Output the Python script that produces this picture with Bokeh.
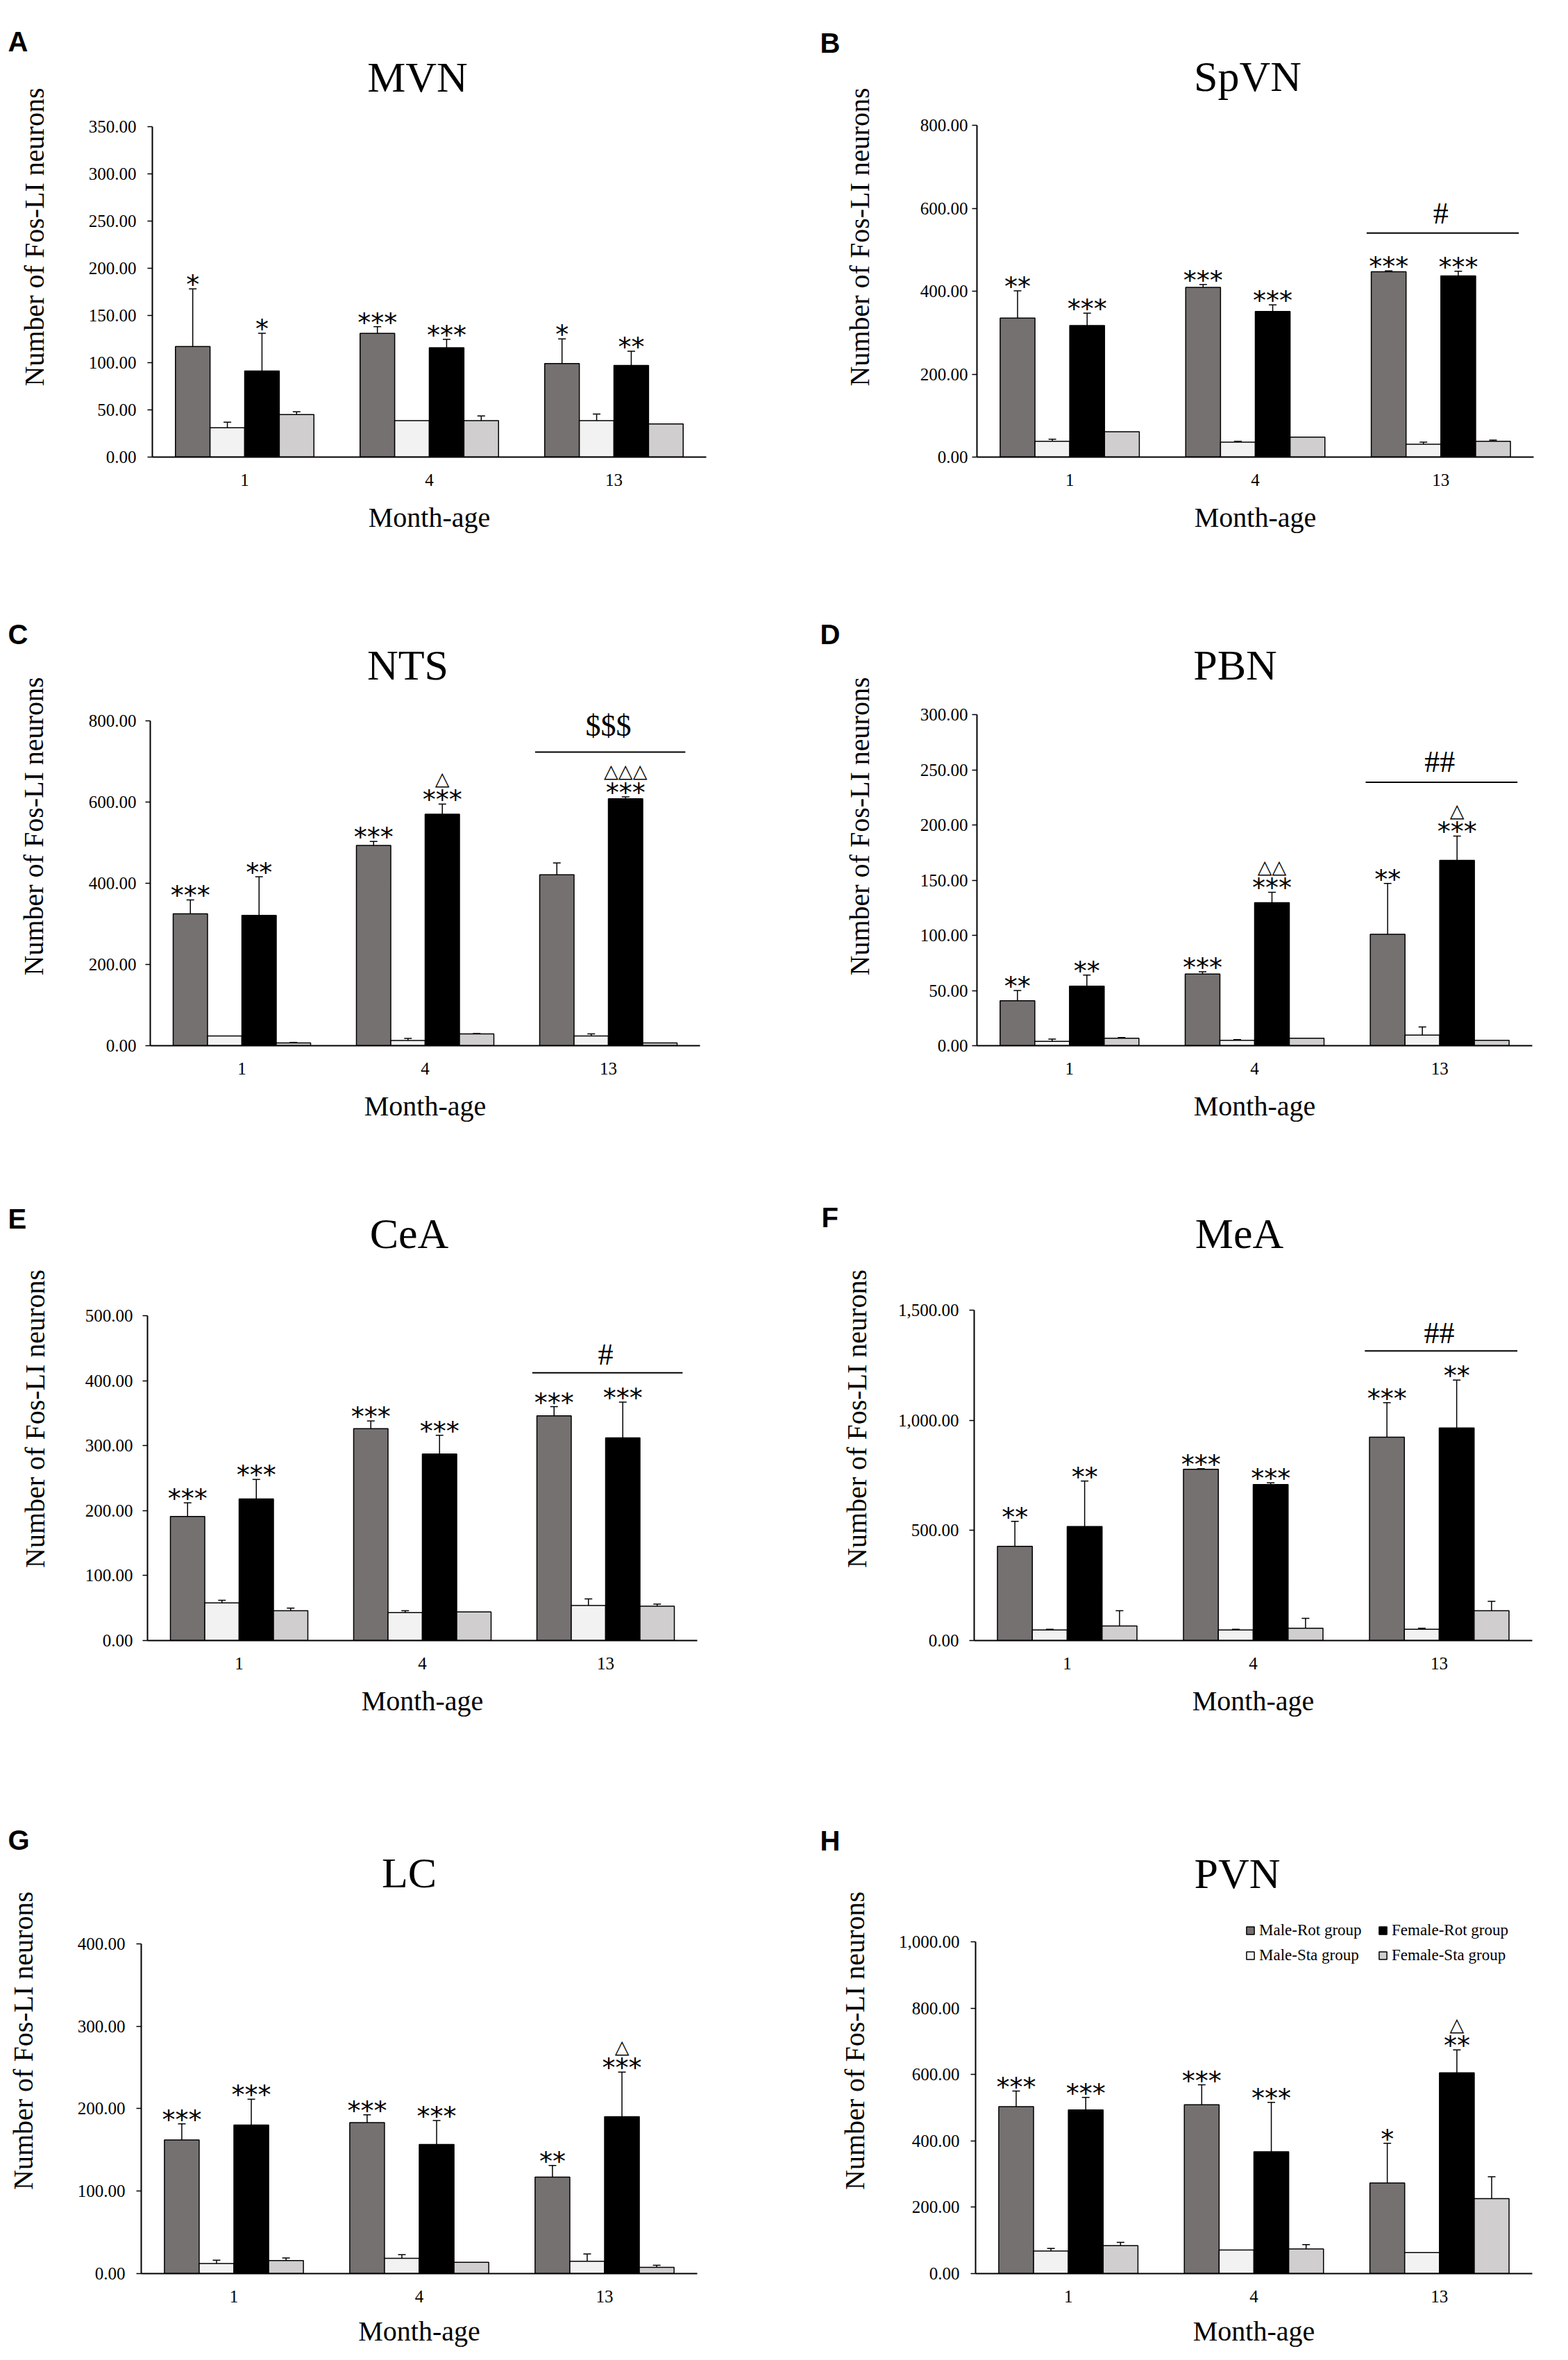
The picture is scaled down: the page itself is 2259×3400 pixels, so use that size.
from bokeh.plotting import figure
from bokeh.models import (ColumnDataSource, Range1d, FixedTicker, NumeralTickFormatter,
                          Label, Whisker, TeeHead, Legend, LegendItem)
from bokeh.layouts import column, row
from bokeh.embed import file_html
from bokeh.resources import INLINE
from bokeh.core.properties import value

# ---------------------------------------------------------------- data
months = ["1", "4", "13"]
series_names = ["Male-Rot group", "Male-Sta group", "Female-Rot group", "Female-Sta group"]
# rows: Male-Rot, Male-Sta, Female-Rot, Female-Sta ; columns: month 1, 4, 13

mvn_mean = [[117, 131, 99], [31, 38.5, 38.5], [91, 115.6, 97], [45, 38.5, 35]]
mvn_sem = [[61, 7, 26], [6, 0, 7], [40, 9, 15], [3, 5, 0]]
mvn_stars_male = ["*", "***", "*"]
mvn_stars_female = ["*", "***", "**"]
mvn_delta = ["", "", ""]

spvn_mean = [[335, 409, 447], [38, 36, 31], [317, 351, 437], [61, 48, 38]]
spvn_sem = [[66, 7, 2], [5, 2, 5], [30, 16, 11], [0, 0, 3]]
spvn_stars_male = ["**", "***", "***"]
spvn_stars_female = ["***", "***", "***"]
spvn_delta = ["", "", ""]
spvn_sex = ("#", 540)

nts_mean = [[325, 493, 421], [24, 13, 24], [321, 570, 608], [7, 29, 7]]
nts_sem = [[34, 10, 29], [0, 5, 5], [95, 25, 5], [1, 1, 0]]
nts_stars_male = ["***", "***", ""]
nts_stars_female = ["**", "***", "***"]
nts_delta = ["", "△", "△△△"]
nts_sex = ("$$$", 723)

pbn_mean = [[40.7, 65, 101], [3.9, 4.8, 9.6], [54, 129.6, 168], [6.7, 6.7, 4.8]]
pbn_sem = [[9.3, 2, 46], [2, 0.7, 7.4], [10, 9.4, 22], [0.7, 0, 0]]
pbn_stars_male = ["**", "***", "**"]
pbn_stars_female = ["**", "***", "***"]
pbn_delta = ["", "△△", "△"]
pbn_sex = ("##", 238.7)

cea_mean = [[191, 326, 346], [58, 43, 54], [218, 287, 312], [46, 44, 53]]
cea_sem = [[21, 12, 14], [4, 3, 10], [30, 29, 55], [4, 0, 3]]
cea_stars_male = ["***", "***", "***"]
cea_stars_female = ["***", "***", "***"]
cea_delta = ["", "", ""]
cea_sex = ("#", 412)

mea_mean = [[428, 778, 924], [48, 48, 51], [518, 709, 966], [66, 56, 136]]
mea_sem = [[114, 3, 157], [3, 3, 5], [207, 8, 218], [70, 45, 42]]
mea_stars_male = ["**", "***", "***"]
mea_stars_female = ["**", "***", "**"]
mea_delta = ["", "", ""]
mea_sex = ("##", 1316)

lc_mean = [[162, 183, 117], [12.3, 18.5, 15], [180, 156.5, 190.3], [15.8, 13.6, 7.5]]
lc_sem = [[19.5, 9.5, 14], [4, 4.4, 8.7], [31.4, 29, 54], [3.1, 0, 2.6]]
lc_stars_male = ["***", "***", "**"]
lc_stars_female = ["***", "***", "***"]
lc_delta = ["", "", "△"]

pvn_mean = [[503, 509, 273], [68, 71, 63.5], [493, 367, 605], [84, 74.5, 226]]
pvn_sem = [[47, 60, 120], [7.6, 0, 0], [38, 149, 69], [10, 13, 66]]
pvn_stars_male = ["***", "***", "*"]
pvn_stars_female = ["***", "***", "**"]
pvn_delta = ["", "", "△"]

# ---------------------------------------------------------------- style / layout
COLORS = ["#767171", "#f2f2f2", "#000000", "#d0cece"]
BW = 0.1875
OFFS = [-0.28125, -0.09375, 0.09375, 0.28125]
ROW_H = [850, 850, 880, 820]
COL_W = [1130, 1129]
XLAB_SO = [20, 20, 20, 16]
TOP_PAD = 24
SERIF = "Liberation Serif"
TITLE_LIFT = 21
LETTER_LIFT = 14


panels = [
    dict(letter="A", title="MVN", mean=mvn_mean, sem=mvn_sem, ymax=350, ystep=50,
         sm=mvn_stars_male, sf=mvn_stars_female, dl=mvn_delta, sex=None,
         g=dict(L=219, R=1017, T=182, B=660, tx=601, tb=133, lx=11, lb=75, gap=23, ls=53)),
    dict(letter="B", title="SpVN", mean=spvn_mean, sem=spvn_sem, ymax=800, ystep=200,
         sm=spvn_stars_male, sf=spvn_stars_female, dl=spvn_delta, sex=spvn_sex, so=-28,
         g=dict(L=277, R=1079, T=180, B=658, tx=667, tb=130, lx=51, lb=75, gap=13, ls=62)),
    dict(letter="C", title="NTS", mean=nts_mean, sem=nts_sem, ymax=800, ystep=200,
         sm=nts_stars_male, sf=nts_stars_female, dl=nts_delta, sex=nts_sex, so=-38,
         g=dict(L=216, R=1008, T=188, B=656, tx=587, tb=128, lx=11, lb=77, gap=20, ls=54)),
    dict(letter="D", title="PBN", mean=pbn_mean, sem=pbn_sem, ymax=300, ystep=50,
         sm=pbn_stars_male, sf=pbn_stars_female, dl=pbn_delta, sex=pbn_sex, so=-29,
         g=dict(L=277, R=1077, T=179, B=656, tx=649, tb=128, lx=51, lb=77, gap=13, ls=62)),
    dict(letter="E", title="CeA", mean=cea_mean, sem=cea_sem, ymax=500, ystep=100,
         sm=cea_stars_male, sf=cea_stars_female, dl=cea_delta, sex=cea_sex, so=-26,
         g=dict(L=212, R=1004, T=195, B=663, tx=589, tb=97, lx=11, lb=69, gap=21, ls=47)),
    dict(letter="F", title="MeA", mean=mea_mean, sem=mea_sem, ymax=1500, ystep=500,
         sm=mea_stars_male, sf=mea_stars_female, dl=mea_delta, sex=mea_sex, so=-26,
         g=dict(L=273, R=1077, T=188, B=665, tx=655, tb=99, lx=53, lb=69, gap=22, ls=34)),
    dict(letter="G", title="LC", mean=lc_mean, sem=lc_sem, ymax=400, ystep=100,
         sm=lc_stars_male, sf=lc_stars_female, dl=lc_delta, sex=None,
         g=dict(L=203, R=1004, T=220, B=696, tx=589, tb=139, lx=11, lb=85, gap=23, ls=53)),
    dict(letter="H", title="PVN", mean=pvn_mean, sem=pvn_sem, ymax=1000, ystep=200,
         sm=pvn_stars_male, sf=pvn_stars_female, dl=pvn_delta, sex=None,
         g=dict(L=275, R=1077, T=217, B=695, tx=652, tb=139, lx=51, lb=85, gap=23, ls=38)),
]


def make_panel(pd, col, rw, legend=False):
    g = pd["g"]
    W, H = COL_W[col], ROW_H[rw]
    L, R, T, B = g["L"], g["R"], g["T"], g["B"]
    ymax = pd["ymax"]
    y_top = ymax * (B - TOP_PAD) / (B - T)   # frame reaches above the axis for titles/legend
    p = figure(width=W, height=H, x_range=Range1d(-0.5, 2.5), y_range=Range1d(0, y_top),
               output_backend="svg", toolbar_location=None)
    p.title.visible = False
    p.min_border_left = L
    p.min_border_right = W - R
    p.min_border_top = TOP_PAD
    p.min_border_bottom = H - B
    p.xgrid.visible = False
    p.ygrid.visible = False
    p.outline_line_color = None
    p.background_fill_color = "white"
    p.border_fill_color = "white"

    # y axis
    ya = p.yaxis[0]
    ya.bounds = (0, ymax)
    ya.ticker = FixedTicker(ticks=list(range(0, ymax + 1, pd["ystep"])))
    ya.formatter = NumeralTickFormatter(format="0,0.00")
    ya.axis_line_width = 2
    ya.axis_line_color = "black"
    ya.major_tick_out = 7
    ya.major_tick_in = 0
    ya.major_tick_line_width = 1.5
    ya.major_tick_line_color = "black"
    ya.minor_tick_out = 0
    ya.minor_tick_in = 0
    ya.major_label_text_font = SERIF
    ya.major_label_text_font_size = "25px"
    ya.major_label_text_color = "black"
    ya.major_label_standoff = g["gap"] - 7
    ya.axis_label = "Number of Fos-LI neurons"
    ya.axis_label_text_font = SERIF
    ya.axis_label_text_font_style = "normal"
    ya.axis_label_text_font_size = "40px"
    ya.axis_label_text_color = "black"
    ya.axis_label_standoff = g["ls"]

    # x axis
    xa = p.xaxis[0]
    xa.ticker = FixedTicker(ticks=[0, 1, 2])
    xa.major_label_overrides = {0: months[0], 1: months[1], 2: months[2]}
    xa.axis_line_width = 2
    xa.axis_line_color = "black"
    xa.major_tick_out = 0
    xa.major_tick_in = 0
    xa.minor_tick_out = 0
    xa.minor_tick_in = 0
    xa.major_label_text_font = SERIF
    xa.major_label_text_font_size = "25px"
    xa.major_label_text_color = "black"
    xa.major_label_standoff = 24
    xa.axis_label = "Month-age"
    xa.axis_label_text_font = SERIF
    xa.axis_label_text_font_style = "normal"
    xa.axis_label_text_font_size = "40px"
    xa.axis_label_text_color = "black"
    xa.axis_label_standoff = XLAB_SO[rw]

    # bars
    rends = []
    wx, wlo, whi = [], [], []
    for s in range(4):
        xs = [i + OFFS[s] for i in range(3)]
        src = ColumnDataSource(dict(x=xs, top=pd["mean"][s], month=months))
        r = p.vbar(x="x", top="top", width=BW, bottom=0, source=src,
                   fill_color=COLORS[s], line_color="black", line_width=1.5)
        rends.append(r)
        for i in range(3):
            if pd["sem"][s][i] > 0:
                wx.append(xs[i])
                wlo.append(pd["mean"][s][i])
                whi.append(pd["mean"][s][i] + pd["sem"][s][i])

    wsrc = ColumnDataSource(dict(x=wx, lower=wlo, upper=whi))
    p.add_layout(Whisker(source=wsrc, base="x", lower="lower", upper="upper",
                         dimension="height", line_color="black", line_width=1.5,
                         lower_head=None,
                         upper_head=TeeHead(size=11, line_color="black", line_width=1.5)))

    # significance marks
    tx, ty, tt = [], [], []
    ddx, ddy, ddt = [], [], []
    for s, stars in ((0, pd["sm"]), (2, pd["sf"])):
        for i in range(3):
            top = pd["mean"][s][i] + pd["sem"][s][i]
            if stars[i]:
                tx.append(i + OFFS[s]); ty.append(top); tt.append(stars[i])
            if s == 2 and pd["dl"][i]:
                ddx.append(i + OFFS[s]); ddy.append(top); ddt.append(pd["dl"][i])
    p.text(x="x", y="y", text="text", source=ColumnDataSource(dict(x=tx, y=ty, text=tt)),
           text_font=value("DejaVu Sans"), text_font_size="38px", text_align="center",
           text_baseline="alphabetic", y_offset=-6, text_color="black")
    if ddt:
        p.text(x="x", y="y", text="text", source=ColumnDataSource(dict(x=ddx, y=ddy, text=ddt)),
               text_font=value("DejaVu Sans"), text_font_size="27px", text_align="center",
               text_baseline="alphabetic", y_offset=-37, text_color="black")

    # sex-difference bracket
    if pd["sex"]:
        sym, yv = pd["sex"]
        p.segment(x0=[1.6], x1=[2.42], y0=[yv], y1=[yv], line_color="black", line_width=2)
        p.text(x=[2.0], y=[yv], text=[sym], text_font=value(SERIF), text_font_size="44px",
               text_align="center", text_baseline="alphabetic", y_offset=pd["so"],
               text_color="black")

    # panel title (inside the extended frame)
    p.add_layout(Label(x=g["tx"] - L, y=B - g["tb"] + TITLE_LIFT,
                       x_units="screen", y_units="screen",
                       text=pd["title"], text_font=SERIF, text_font_size="62px",
                       text_align="center", text_baseline="alphabetic", text_color="black"))
    # panel letter (side-panel annotation, positioned from the frame's right edge)
    p.add_layout(Label(x=g["lx"] - R, y=B - g["lb"] + LETTER_LIFT,
                       x_units="screen", y_units="screen",
                       text=pd["letter"], text_font="Liberation Sans", text_font_style="bold",
                       text_font_size="40px", text_align="left", text_baseline="alphabetic",
                       text_color="black"), "right")

    if legend:
        items = [LegendItem(label=n, renderers=[r]) for n, r in zip(series_names, rends)]
        lg = Legend(items=items, ncols=2, location=(389, B - T - 33),
                    glyph_width=14, glyph_height=14, label_standoff=6, spacing=10,
                    padding=0, margin=0, border_line_color=None, background_fill_alpha=0,
                    label_text_font=SERIF, label_text_font_size="23px", label_height=24,
                    label_width=161, label_text_color="black")
        p.add_layout(lg)
    return p


figs = []
for k, pd in enumerate(panels):
    figs.append(make_panel(pd, k % 2, k // 2, legend=(k == 7)))

layout = column(row(figs[0], figs[1]), row(figs[2], figs[3]),
                row(figs[4], figs[5]), row(figs[6], figs[7]))

open("out.html", "w").write(file_html(layout, INLINE))
